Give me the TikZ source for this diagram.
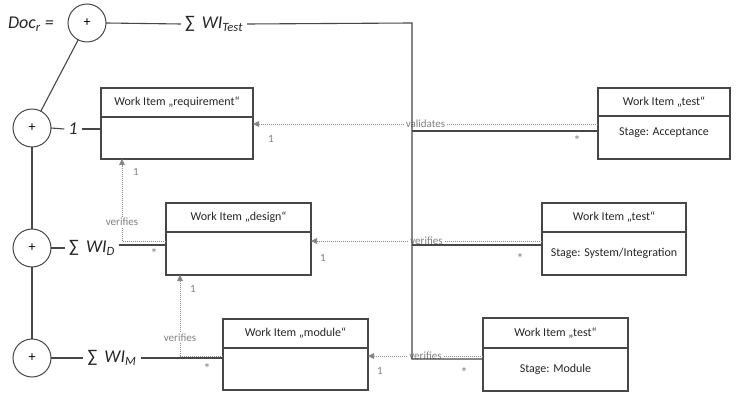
\documentclass[tikz,border=0pt]{standalone}
\usepackage{fontspec}
\setmainfont{Carlito}
\usetikzlibrary{arrows.meta,calc}
\begin{document}
\begin{tikzpicture}[x=1pt,y=-1pt,
  wb/.style={draw=black!72,line width=1.1pt,anchor=north west,inner sep=0pt,outer sep=0pt},
  wbl/.style={draw=black!72,line width=1.1pt},
  wt/.style={font=\fontsize{12}{14}\selectfont,text=black!85,inner sep=0pt},
  circ/.style={circle,draw=black!72,line width=1pt,minimum size=38pt,inner sep=0pt,outer sep=0pt,font=\fontsize{14}{16}\selectfont},
  big/.style={font=\fontsize{18}{21}\selectfont\itshape,text=black!85,inner sep=4pt},
  sol/.style={draw=black!72,line width=1.1pt},
  dep/.style={draw=black!45,line width=0.9pt,dash pattern=on 1pt off 1pt,-{Triangle[width=6pt,length=6pt,fill=black!50]}},
  depn/.style={draw=black!45,line width=0.9pt,dash pattern=on 1pt off 1pt},
  dl/.style={font=\fontsize{11}{13}\selectfont,text=black!50,fill=white,inner sep=1pt},
  mult/.style={font=\fontsize{11}{13}\selectfont,text=black!50,inner sep=0pt},
  star/.style={font=\fontsize{14}{16}\selectfont,text=black!50,inner sep=0pt}
]
\useasboundingbox (0,0) rectangle (738,395);

\newcommand\wibox[7]{%
  \node[wb,minimum width=#4pt,minimum height=#5pt] (#1) at (#2,#3) {};
  \draw[wbl] ($(#1.north west)+(0,#6)$) -- ($(#1.north east)+(0,#6)$);
  \node[wt] (#1-t) at ($(#1.north)+(0,#6/2)$) {#7};
}

% boxes
\wibox{req}{101}{88}{152}{71}{29}{Work Item „requirement“}
\wibox{des}{166}{203}{145}{72}{29}{Work Item „design“}
\wibox{mod}{223}{319}{145}{71}{29}{Work Item „module“}
\wibox{acc}{598}{88}{132}{71}{28}{Work Item „test“}
\wibox{sys}{542}{203}{144}{72}{29}{Work Item „test“}
\wibox{modt}{483}{318}{145}{73}{30}{Work Item „test“}
\node[wt] (acc-s) at ($(acc.north)+(0,45)$) {Stage: Acceptance};
\node[wt] (sys-s) at ($(sys.north)+(0,50)$) {Stage: System/Integration};
\node[wt] (modt-s) at ($(modt.north)+(0,51)$) {Stage: Module};

% circles
\node[circ] (c0) at (87,23) {+};
\node[circ] (c1) at (32,128) {+};
\node[circ] (c2) at (32,248) {+};
\node[circ] (c3) at (32,358) {+};
\draw[sol] (c0) -- (c1);
\draw[sol] (c1) -- (c2);
\draw[sol] (c2) -- (c3);

% formula labels
\node[big,anchor=east] (doc) at (58,24) {Doc\textsubscript{r} =};
\node[big] (sT) at (214,24) {{\upshape ∑} \,WI\textsubscript{Test}};
\node[big] (one) at (73,129) {1};
\node[big] (sD) at (92,248) {{\upshape ∑} \,WI\textsubscript{D}};
\node[big] (sM) at (112,358) {{\upshape ∑} \,WI\textsubscript{M}};

% dependencies (dotted)
\coordinate (r1) at (0,124);
\coordinate (r2) at (0,241);
\coordinate (r3) at (0,356);
\draw[dep] (acc.west |- r1) -- node[dl] (l1) {validates} (req.east |- r1);
\draw[dep] (sys.west |- r2) -- node[dl] (l2) {verifies} (des.east |- r2);
\draw[dep] (modt.west |- r3) -- node[dl] (l3) {verifies} (mod.east |- r3);
\coordinate (k1) at (122,241);
\coordinate (k2) at (180,356);
\draw[depn] (des.west |- k1) -- (k1);
\draw[dep] (k1) -- node[dl,pos=0.23] (l4) {verifies} (req.south -| k1);
\draw[depn] (mod.west |- k2) -- (k2);
\draw[dep] (k2) -- node[dl,pos=0.23] (l5) {verifies} (des.south -| k2);

% solid connectors
\draw[sol] (c0.east) -- (sT.west);
\coordinate (v0) at (412,23);
\coordinate (v3) at (412,359);
\coordinate (b1) at (412,131);
\coordinate (b2) at (412,245);
\draw[sol] (sT.east) -- (v0) -- (v3) -- (modt.west |- v3);
\draw[sol] (b1) -- (acc.west |- b1);
\draw[sol] (b2) -- (sys.west |- b2);
\draw[sol] (c1.east) -- (one.west);
\draw[sol] (one.east) -- (req.west |- one);
\draw[sol] (c2.east) -- (sD.west);
\coordinate (d2) at (0,245);
\draw[sol] (sD.east |- d2) -- (des.west |- d2);
\draw[sol] (c3.east) -- (sM.west);
\draw[sol] (sM.east) -- (mod.west |- sM);

% multiplicities
\node[mult] (m1) at (271,139) {1};
\node[star] (m2) at (577,141) {*};
\node[mult] (m3) at (136,172) {1};
\node[mult] (m4) at (323,258) {1};
\node[star] (m5) at (520,259) {*};
\node[star] (m6) at (154,254) {*};
\node[mult] (m7) at (193,289) {1};
\node[mult] (m8) at (380,371) {1};
\node[star] (m9) at (464,373) {*};
\node[star] (m10) at (207,369) {*};
\end{tikzpicture}
\end{document}
